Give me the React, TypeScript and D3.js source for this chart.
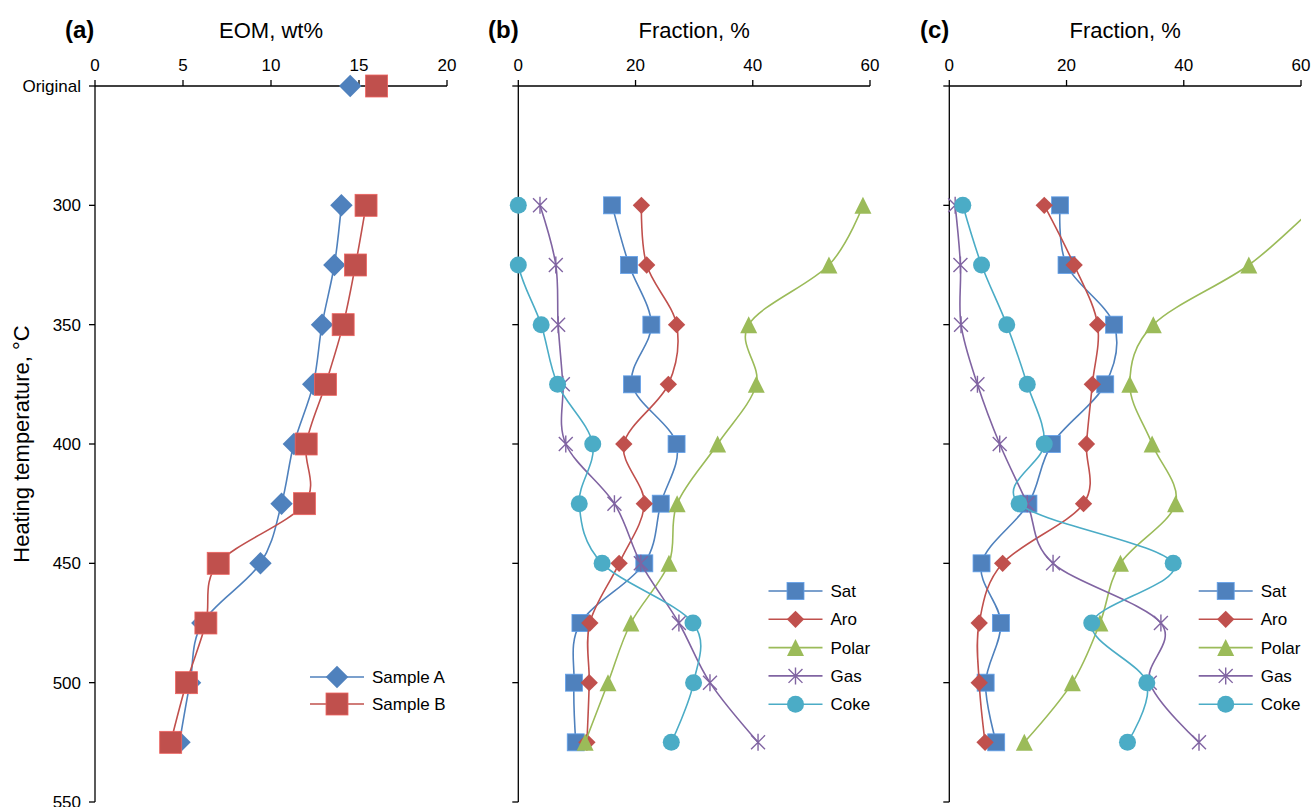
import React from 'react';
import * as d3 from 'd3';

// y positions: 250 stands for the "Original" row
const ORIGINAL = 250;
const yTickValues = [250, 300, 350, 400, 450, 500, 550];
const yTickLabels = ['Original', '300', '350', '400', '450', '500', '550'];
const temps = [300, 325, 350, 375, 400, 425, 450, 475, 500, 525];

// (a) EOM, wt% - the original sample is a lone point, not joined to the curve
const originalA = 14.5;
const originalB = 16.0;
const sampleA = [14.0, 13.6, 12.9, 12.4, 11.3, 10.6, 9.4, 6.1, 5.4, 4.8];
const sampleB = [15.4, 14.8, 14.1, 13.1, 12.0, 11.9, 7.0, 6.3, 5.2, 4.3];

// (b) Fraction, %
const satB = [16.0, 18.9, 22.7, 19.4, 27.0, 24.3, 21.5, 10.6, 9.5, 9.8];
const aroB = [21.0, 21.9, 27.0, 25.6, 18.0, 21.5, 17.2, 12.2, 12.1, 11.7];
const polarB = [58.8, 53.0, 39.3, 40.6, 34.0, 27.1, 25.7, 19.2, 15.3, 11.4];
const gasB = [3.7, 6.4, 6.8, 7.6, 8.1, 16.4, 20.9, 27.4, 32.7, 40.9];
const cokeB = [0, 0, 3.9, 6.7, 12.7, 10.4, 14.3, 29.8, 29.9, 26.1];

// (c) Fraction, %
const satC = [18.9, 20.0, 28.1, 26.6, 17.5, 13.5, 5.5, 8.8, 6.2, 8.0];
const aroC = [16.2, 21.3, 25.3, 24.4, 23.4, 22.9, 9.1, 5.1, 5.1, 6.1];
const polarC = [62.5, 51.1, 34.8, 30.8, 34.6, 38.6, 29.2, 25.7, 21.0, 12.8];
const gasC = [1.0, 1.9, 2.0, 4.8, 8.6, 13.3, 17.7, 36.1, 34.2, 42.6];
const cokeC = [2.3, 5.5, 9.8, 13.3, 16.2, 11.9, 38.2, 24.3, 33.7, 30.4];

const BLUE = '#4F81BD';
const RED = '#C0504D';
const GREEN = '#9BBB59';
const PURPLE = '#8064A2';
const AQUA = '#4BACC6';

const FONT = '"Liberation Sans", Arial, sans-serif';
const TOP = 86;
const BOTTOM = 802;

const y = d3.scaleLinear().domain([250, 550]).range([TOP, BOTTOM]);

type Shape = 'square' | 'diamond' | 'triangle' | 'star' | 'circle';
type Series = {
  name: string;
  values: number[];
  color: string;
  shape: Shape;
  original?: number;
};

const Marker = ({ shape, cx, cy, s, color }: { shape: Shape; cx: number; cy: number; s: number; color: string }) => {
  const h = s / 2;
  const edge = d3.color(color)!.brighter(0.6).toString();
  if (shape === 'square')
    return <rect x={cx - h} y={cy - h} width={s} height={s} fill={color} stroke={edge} strokeWidth={0.8} />;
  if (shape === 'diamond') {
    const d = h * 1.02;
    return <path d={`M${cx},${cy - d}L${cx + d},${cy}L${cx},${cy + d}L${cx - d},${cy}Z`} fill={color} />;
  }
  if (shape === 'triangle')
    return <path d={`M${cx},${cy - h}L${cx + h},${cy + h}L${cx - h},${cy + h}Z`} fill={color} />;
  if (shape === 'circle') return <circle cx={cx} cy={cy} r={h} fill={color} />;
  const a = h * 0.82;
  return (
    <path
      d={`M${cx - a},${cy - a}L${cx + a},${cy + a}M${cx - a},${cy + a}L${cx + a},${cy - a}M${cx},${cy - h}L${cx},${cy + h}`}
      stroke={color}
      strokeWidth={1.4}
      fill="none"
    />
  );
};

type PanelProps = {
  id: string;
  tag: string;
  tagX: number;
  title: string;
  range: [number, number];
  domain: [number, number];
  ticks: number[];
  series: Series[];
  size: number;
  legendX: number;
  legendY: number[];
  yLabels: boolean;
};

const Panel = ({ id, tag, tagX, title, range, domain, ticks, series, size, legendX, legendY, yLabels }: PanelProps) => {
  const x = d3.scaleLinear().domain(domain).range(range);
  const line = d3
    .line<[number, number]>()
    .x((d) => x(d[0]))
    .y((d) => y(d[1]))
    .curve(d3.curveCatmullRom.alpha(0));
  const [x0, x1] = range;
  const mid = (x0 + x1) / 2;
  const inside = (v: number) => v >= domain[0] && v <= domain[1];

  return (
    <g fontFamily={FONT}>
      <defs>
        <clipPath id={`clip-${id}`}>
          <rect x={x0} y={TOP} width={x1 - x0} height={BOTTOM - TOP} />
        </clipPath>
      </defs>
      <text x={tagX} y={37.5} fontSize={24} fontWeight="bold" fill="#000">
        {tag}
      </text>
      <text x={mid} y={38} fontSize={22} textAnchor="middle" fill="#000">
        {title}
      </text>

      {/* x axis on top */}
      <line x1={x0} x2={x1} y1={TOP} y2={TOP} stroke="#000" strokeWidth={1.3} />
      {ticks.map((t) => (
        <g key={t}>
          <line x1={x(t)} x2={x(t)} y1={TOP - 6} y2={TOP} stroke="#000" strokeWidth={1.3} />
          <text x={x(t)} y={71} fontSize={17} textAnchor="middle" fill="#000">
            {t}
          </text>
        </g>
      ))}

      {/* y axis */}
      <line x1={x0} x2={x0} y1={TOP} y2={BOTTOM} stroke="#000" strokeWidth={1.3} />
      {yTickValues.map((t, i) => (
        <g key={t}>
          <line x1={x0 - 6} x2={x0} y1={y(t)} y2={y(t)} stroke="#000" strokeWidth={1.3} />
          {yLabels && (
            <text x={x0 - 14} y={y(t)} dy="0.35em" fontSize={17} textAnchor="end" fill="#000">
              {yTickLabels[i]}
            </text>
          )}
        </g>
      ))}

      {series.map((s) => {
        const pts = s.values.map((v, i) => [v, temps[i]] as [number, number]);
        return (
          <g key={s.name}>
            <path d={line(pts) ?? ''} fill="none" stroke={s.color} strokeWidth={1.6} clipPath={`url(#clip-${id})`} />
            {s.original !== undefined && (
              <Marker shape={s.shape} cx={x(s.original)} cy={y(ORIGINAL)} s={size} color={s.color} />
            )}
            {pts
              .filter((p) => inside(p[0]))
              .map((p, i) => (
                <Marker key={i} shape={s.shape} cx={x(p[0])} cy={y(p[1])} s={size} color={s.color} />
              ))}
          </g>
        );
      })}

      {/* legend */}
      {series.map((s, i) => (
        <g key={s.name}>
          <line x1={legendX - 27} x2={legendX + 27} y1={legendY[i]} y2={legendY[i]} stroke={s.color} strokeWidth={1.6} />
          <Marker shape={s.shape} cx={legendX} cy={legendY[i]} s={size} color={s.color} />
          <text x={legendX + 35} y={legendY[i]} dy="0.35em" fontSize={17} fill="#000">
            {s.name}
          </text>
        </g>
      ))}
    </g>
  );
};

const fractionSeries = (sat: number[], aro: number[], polar: number[], gas: number[], coke: number[]): Series[] => [
  { name: 'Sat', values: sat, color: BLUE, shape: 'square' },
  { name: 'Aro', values: aro, color: RED, shape: 'diamond' },
  { name: 'Polar', values: polar, color: GREEN, shape: 'triangle' },
  { name: 'Gas', values: gas, color: PURPLE, shape: 'star' },
  { name: 'Coke', values: coke, color: AQUA, shape: 'circle' },
];

const legendRows = [591, 619.3, 647.6, 675.9, 704.2];

export default function App() {
  const eomSeries: Series[] = [
    { name: 'Sample A', values: sampleA, color: BLUE, shape: 'diamond', original: originalA },
    { name: 'Sample B', values: sampleB, color: RED, shape: 'square', original: originalB },
  ];

  return (
    <div style={{ position: 'absolute', left: 0, top: 0 }}>
      <svg width={1311} height={807} style={{ display: 'block', background: '#fff' }}>
        <text
          transform={`translate(21,444) rotate(-90)`}
          dy="0.35em"
          fontFamily={FONT}
          fontSize={22}
          textAnchor="middle"
          fill="#000"
        >
          Heating temperature, °C
        </text>
        <Panel
          id="a"
          tag="(a)"
          tagX={65}
          title="EOM, wt%"
          range={[95, 447]}
          domain={[0, 20]}
          ticks={[0, 5, 10, 15, 20]}
          series={eomSeries}
          size={22}
          legendX={337}
          legendY={[677, 704]}
          yLabels
        />
        <Panel
          id="b"
          tag="(b)"
          tagX={488}
          title="Fraction, %"
          range={[518.3, 870]}
          domain={[0, 60]}
          ticks={[0, 20, 40, 60]}
          series={fractionSeries(satB, aroB, polarB, gasB, cokeB)}
          size={17}
          legendX={795.5}
          legendY={legendRows}
          yLabels={false}
        />
        <Panel
          id="c"
          tag="(c)"
          tagX={920}
          title="Fraction, %"
          range={[949.3, 1301]}
          domain={[0, 60]}
          ticks={[0, 20, 40, 60]}
          series={fractionSeries(satC, aroC, polarC, gasC, cokeC)}
          size={17}
          legendX={1225.7}
          legendY={legendRows}
          yLabels={false}
        />
      </svg>
    </div>
  );
}
